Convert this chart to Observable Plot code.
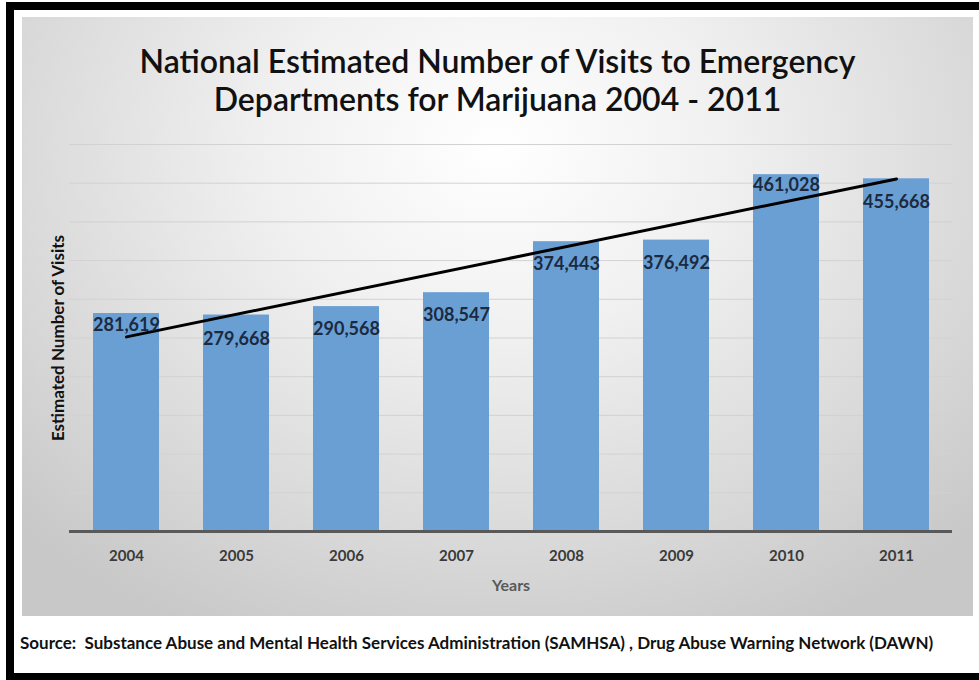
<!DOCTYPE html>
<html><head><meta charset="utf-8">
<script src="https://cdn.jsdelivr.net/npm/d3@7"></script>
<script src="https://cdn.jsdelivr.net/npm/@observablehq/plot@0.6"></script>
<style>
body{margin:0;background:#fff;}
#wrap{position:relative;width:979px;height:680px;overflow:hidden;font-family:Lato,"Open Sans",sans-serif;}
#frame{position:absolute;left:6px;top:2px;right:-20px;bottom:0;border-style:solid;border-color:#000;border-width:8px 0 7px 8px;}
#panel{position:absolute;left:22px;top:17px;width:951px;height:599px;background:radial-gradient(ellipse 70% 90% at 50% 22%, #ffffff 0%, #f0f0f0 35%, #d8d8d8 75%, #c8c8c8 100%);}
#title{position:absolute;left:22px;width:951px;top:42px;text-align:center;font-size:32px;line-height:38px;font-weight:600;color:#111;}
#chart{position:absolute;left:0;top:0;}
#source{position:absolute;left:20px;top:632px;font-size:17px;font-weight:bold;color:#111;white-space:nowrap;}
</style></head>
<body>
<div id="wrap">
  <div id="frame"></div>
  <div id="panel"></div>
  <div id="title">National Estimated Number of Visits to Emergency<br>Departments for Marijuana 2004 - 2011</div>
  <div id="chart"></div>
  <div id="source">Source:&nbsp; Substance Abuse and Mental Health Services Administration (SAMHSA) , Drug Abuse Warning Network (DAWN)</div>
</div>
<script>
const years = ["2004","2005","2006","2007","2008","2009","2010","2011"];
const visits = [281619, 279668, 290568, 308547, 374443, 376492, 461028, 455668];
const yTicks = [50000,100000,150000,200000,250000,300000,350000,400000,450000,500000];
const yLabel = "Estimated Number of Visits";
const xLabel = "Years";

const data = years.map((y, i) => ({year: y, value: visits[i], i}));

// linear trendline (least squares over year index)
const n = visits.length;
const mx = d3.mean(d3.range(n)), my = d3.mean(visits);
const slope = d3.sum(d3.range(n), i => (i - mx) * (visits[i] - my)) / d3.sum(d3.range(n), i => (i - mx) ** 2);
const icpt = my - slope * mx;
const trend = [0, n - 1].map(i => ({year: years[i], value: icpt + slope * i}));

const labelDy = [12, 24, 23, 23, 23, 23, 11, 23];
const fmt = d3.format(",");

const labelMarks = data.map((d, i) => Plot.text([d], {
  x: "year", y: "value", text: d => fmt(d.value), dy: labelDy[i],
  fill: "#1b2a40", fontSize: 18, fontWeight: "bold"
}));

const chart = Plot.plot({
  width: 979,
  height: 620,
  marginTop: 144,
  marginBottom: 89,
  marginLeft: 69,
  marginRight: 27,
  style: {background: "transparent", fontFamily: "Lato, 'Open Sans', sans-serif", fontSize: "15px", fontWeight: "bold", color: "#3a3a3a"},
  x: {domain: years, paddingInner: 0.4, paddingOuter: 0.2, label: null, tickSize: 0, tickPadding: 19},
  y: {domain: [0, 500000], axis: null},
  marks: [
    Plot.ruleY(yTicks, {stroke: "#d2d2d2", strokeWidth: 1}),
    Plot.barY(data, {x: "year", y: "value", fill: "#6a9fd4"}),
    Plot.ruleY([0], {stroke: "#595959", strokeWidth: 3}),
    Plot.line(trend, {x: "year", y: "value", stroke: "#000", strokeWidth: 3}),
    ...labelMarks,
    Plot.text([yLabel], {frameAnchor: "left", textAnchor: "middle", dx: -11, rotate: -90, fill: "#111", fontSize: 17, fontWeight: "bold"}),
    Plot.text([xLabel], {frameAnchor: "bottom", lineAnchor: "middle", dy: 54, fill: "#595959", fontSize: 16, fontWeight: "bold"})
  ]
});
document.getElementById("chart").appendChild(chart);
</script>
</body></html>
